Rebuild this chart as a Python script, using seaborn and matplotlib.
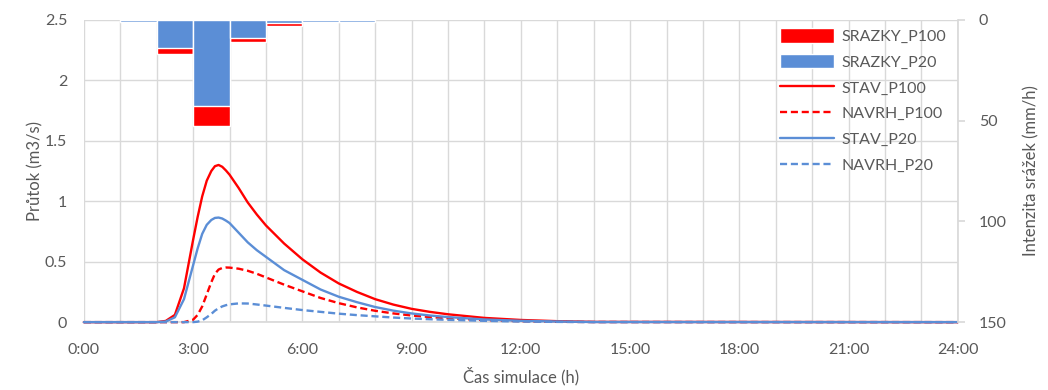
import matplotlib
matplotlib.use("Agg")
import matplotlib.pyplot as plt
import seaborn as sns
import pandas as pd

# ====== DATA ======
cas_h = [0, 2.0, 2.25, 2.5, 2.75, 3.0, 3.125, 3.25, 3.375, 3.5, 3.6, 3.7, 3.8, 3.9,
         4.0, 4.25, 4.5, 4.75, 5.0, 5.5, 6.0, 6.5, 7.0, 7.5, 8.0, 8.5, 9.0, 9.5,
         10.0, 11.0, 12.0, 13.0, 14.0, 24.0]
stav_p100 = [0, 0, 0.01, 0.06, 0.28, 0.68, 0.87, 1.04, 1.17, 1.25, 1.29, 1.30, 1.285,
             1.255, 1.22, 1.11, 0.99, 0.89, 0.80, 0.65, 0.52, 0.41, 0.32, 0.25, 0.19,
             0.145, 0.11, 0.085, 0.065, 0.035, 0.018, 0.008, 0.002, 0]
navrh_p100 = [0, 0, 0, 0, 0, 0.02, 0.06, 0.13, 0.23, 0.33, 0.40, 0.435, 0.448,
              0.452, 0.451, 0.442, 0.425, 0.40, 0.37, 0.31, 0.255, 0.20, 0.157, 0.122,
              0.094, 0.072, 0.055, 0.042, 0.032, 0.017, 0.008, 0.003, 0.001, 0]
stav_p20 = [0, 0, 0.005, 0.04, 0.19, 0.47, 0.61, 0.73, 0.805, 0.845, 0.862, 0.865,
            0.857, 0.84, 0.82, 0.74, 0.66, 0.595, 0.54, 0.43, 0.35, 0.27, 0.21, 0.165,
            0.125, 0.095, 0.072, 0.055, 0.042, 0.022, 0.011, 0.005, 0.001, 0]
navrh_p20 = [0, 0, 0, 0, 0, 0, 0.004, 0.015, 0.04, 0.068, 0.095, 0.115, 0.13, 0.14,
             0.147, 0.155, 0.154, 0.146, 0.137, 0.118, 0.10, 0.085, 0.07, 0.058, 0.048,
             0.038, 0.03, 0.024, 0.019, 0.011, 0.005, 0.002, 0.0005, 0]

# srazky - hodinove intenzity (zacatek hodiny)
srazky_cas = [1, 2, 3, 4, 5, 6, 7]
srazky_p100 = [1.2, 17.0, 52.5, 11.0, 3.0, 1.0, 1.0]
srazky_p20 = [1.0, 14.0, 42.5, 8.8, 1.6, 1.0, 1.0]

x_ticks = [0, 3, 6, 9, 12, 15, 18, 21, 24]
x_labels = ["0:00", "3:00", "6:00", "9:00", "12:00", "15:00", "18:00", "21:00", "24:00"]

# ====== STYLE ======
sns.set_theme(style="white")
plt.rcParams["font.family"] = ["Lato", "DejaVu Sans"]
TXT = "#595959"
GRID = "#D9D9D9"
RED = "#FF0000"
BLUE = "#5B8ED6"
FS = 11.5

df = pd.DataFrame({"cas": cas_h, "STAV_P100": stav_p100, "NAVRH_P100": navrh_p100,
                   "STAV_P20": stav_p20, "NAVRH_P20": navrh_p20})

fig = plt.figure(figsize=(10.48, 3.9), dpi=100)
ax = fig.add_axes([0.080, 0.174, 0.834, 0.775])

series = [("STAV_P100", RED, "-"), ("NAVRH_P100", RED, "--"),
          ("STAV_P20", BLUE, "-"), ("NAVRH_P20", BLUE, "--")]
for name, col, ls in series:
    sns.lineplot(data=df, x="cas", y=name, ax=ax, color=col, linewidth=1.7,
                 linestyle=ls, label=name, legend=False)
for line in ax.get_lines():
    line.set_clip_on(False)
    line.set_zorder(3)
    line.set_solid_joinstyle("round")
    if line.get_linestyle() == "--":
        line.set_dashes((3, 1.6))

ax.set_xlim(0, 24)
ax.set_ylim(0, 2.5)
ax.set_xticks(x_ticks)
ax.set_xticklabels(x_labels)
ax.set_xticks(range(0, 25), minor=True)
ax.set_yticks([0, 0.5, 1, 1.5, 2, 2.5])
ax.set_yticklabels(["0", "0.5", "1", "1.5", "2", "2.5"])
ax.grid(True, which="both", color=GRID, linewidth=1)
ax.set_axisbelow(True)
ax.tick_params(axis="both", which="both", length=0, labelsize=FS, colors=TXT)
ax.tick_params(axis="x", pad=15)
ax.tick_params(axis="y", pad=12)
for s in ["left", "top", "right"]:
    ax.spines[s].set_visible(False)
ax.spines["bottom"].set_color(GRID)
ax.spines["bottom"].set_zorder(1)
ax.set_xlabel("Čas simulace (h)", fontsize=FS + 0.5, color=TXT, labelpad=7)
ax.set_ylabel("Průtok (m3/s)", fontsize=FS + 0.5, color=TXT, labelpad=1)

# ====== SRAZKY (prava osa) ======
ax2 = ax.twinx()
ax2.bar(srazky_cas, srazky_p100, width=1, align="edge", color=RED, label="SRAZKY_P100")
ax2.bar(srazky_cas, srazky_p20, width=1, align="edge", color=BLUE, label="SRAZKY_P20")
ax2.set_ylim(150, 0)
ax2.set_yticks([0, 50, 100, 150])
ax2.grid(False)
ax2.tick_params(axis="y", length=5, color=GRID, labelsize=FS, colors=TXT, pad=10)
for s in ["left", "top", "bottom"]:
    ax2.spines[s].set_visible(False)
ax2.spines["right"].set_color(GRID)
ax2.set_ylabel("Intenzita srážek (mm/h)", fontsize=FS + 0.5, color=TXT, labelpad=12)

h1, l1 = ax.get_legend_handles_labels()
h2, l2 = ax2.get_legend_handles_labels()
leg = ax2.legend(h2 + h1, l2 + l1, loc="upper left", bbox_to_anchor=(0.78, 1.02),
                 frameon=False, fontsize=FS, handlelength=3.4, handleheight=1.0,
                 labelspacing=0.64, handletextpad=0.45)
for t in leg.get_texts():
    t.set_color(TXT)

fig.savefig("out.png", dpi=100)
